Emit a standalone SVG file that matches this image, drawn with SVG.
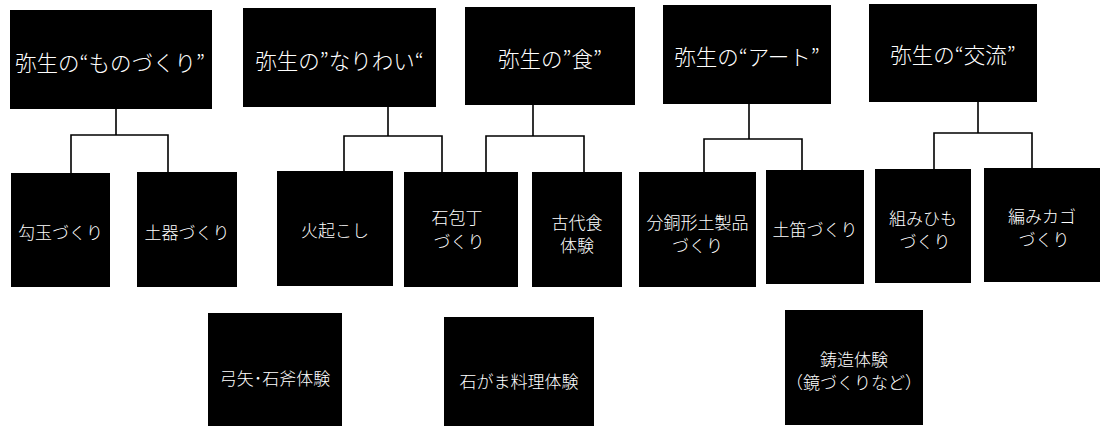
<svg xmlns="http://www.w3.org/2000/svg" width="1102" height="427" viewBox="0 0 1102 427">
<style>
  .box { fill: #000; }
  .t { fill: #fff; font-family: "Noto Sans CJK JP", "Noto Sans CJK SC", sans-serif; font-weight: 300; text-anchor: middle; dominant-baseline: central; }
  .h { font-size: 21.5px; }
  .c { font-size: 17px; }
  .ln { fill: none; stroke: #000; stroke-width: 1.6; }
</style>
<rect width="1102" height="427" fill="#fff"/>
<g id="connectors">
  <path class="ln" d="M116 109 V135 M71 173 V135 H168 V172"/>
  <path class="ln" d="M388 107 V136 M344 171 V136 H442 V172"/>
  <path class="ln" d="M533 105 V136 M486 172 V136 H584 V172"/>
  <path class="ln" d="M749 104 V139 M704 172 V139 H802 V170"/>
  <path class="ln" d="M978 102 V133 M934 169 V133 H1032 V168"/>
</g>
<g id="t1"><rect class="box" x="10" y="10" width="202" height="99"/><text class="t h" x="110" y="61">弥生の“ものづくり”</text></g>
<g id="t2"><rect class="box" x="243" y="8" width="193" height="99"/><text class="t h" x="339.5" y="59">弥生の”なりわい“</text></g>
<g id="t3"><rect class="box" x="465" y="7" width="170" height="98"/><text class="t h" x="550" y="57">弥生の”食”</text></g>
<g id="t4"><rect class="box" x="663" y="5" width="168" height="99"/><text class="t h" x="747" y="55">弥生の“アート”</text></g>
<g id="t5"><rect class="box" x="869" y="4" width="168" height="98"/><text class="t h" x="953" y="53">弥生の“交流”</text></g>
<g id="c1"><rect class="box" x="11" y="173" width="99" height="114"/><text class="t c" x="60.5" y="231">勾玉づくり</text></g>
<g id="c2"><rect class="box" x="137" y="172" width="100" height="115"/><text class="t c" x="187" y="231">土器づくり</text></g>
<g id="c3"><rect class="box" x="277" y="171" width="116" height="115"/><text class="t c" x="335" y="229">火起こし</text></g>
<g id="c4"><rect class="box" x="404" y="172" width="114" height="115"/><text class="t c" x="457" y="216">石包丁</text><text class="t c" x="459" y="240">づくり</text></g>
<g id="c5"><rect class="box" x="532" y="172" width="90" height="115"/><text class="t c" x="577" y="221">古代食</text><text class="t c" x="577" y="244">体験</text></g>
<g id="c6"><rect class="box" x="639" y="172" width="117" height="115"/><text class="t c" x="697.5" y="221">分銅形土製品</text><text class="t c" x="697.5" y="244">づくり</text></g>
<g id="c7"><rect class="box" x="766" y="170" width="98" height="114"/><text class="t c" x="815" y="228">土笛づくり</text></g>
<g id="c8"><rect class="box" x="875" y="169" width="96" height="114"/><text class="t c" x="923" y="217">組みひも</text><text class="t c" x="925" y="240">づくり</text></g>
<g id="c9"><rect class="box" x="984" y="168" width="116" height="114"/><text class="t c" x="1042" y="215">編みカゴ</text><text class="t c" x="1044" y="238">づくり</text></g>
<g id="b1"><rect class="box" x="208" y="313" width="134" height="113"/><text class="t c" x="275" y="377">弓矢･石斧体験</text></g>
<g id="b2"><rect class="box" x="444" y="317" width="150" height="109"/><text class="t c" x="519" y="380">石がま料理体験</text></g>
<g id="b3"><rect class="box" x="785" y="310" width="138" height="115"/><text class="t c" x="854" y="358">鋳造体験</text><text class="t c" x="854" y="381">（鏡づくりなど）</text></g>
</svg>
